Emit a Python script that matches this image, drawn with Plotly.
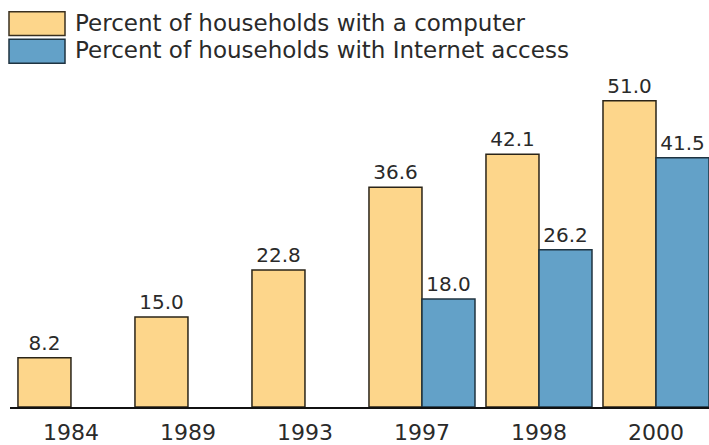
import plotly.graph_objects as go

years = ["1984", "1989", "1993", "1997", "1998", "2000"]
computer = [8.2, 15.0, 22.8, 36.6, 42.1, 51.0]
internet = [None, None, None, 18.0, 26.2, 41.5]
series_names = ["Percent of households with a computer",
                "Percent of households with Internet access"]

YELLOW = "#FDD68B"
BLUE = "#63A1C8"
FONT = "DejaVu Sans"
TXT = "#2a2a2a"

W, H = 709, 445
ML, MR, MT, MB = 10, 0, 80, 35

fig = go.Figure()
fig.add_trace(go.Bar(
    x=years, y=computer, name=series_names[0],
    marker=dict(color=YELLOW, line=dict(color="#2a2418", width=1.5)),
    text=[f"{v:.1f}" for v in computer], textposition="outside",
    textfont=dict(family=FONT, size=20, color=TXT), cliponaxis=False,
))
fig.add_trace(go.Bar(
    x=years, y=internet, name=series_names[1],
    marker=dict(color=BLUE, line=dict(color="#1f3340", width=1.5)),
    text=[("" if v is None else f"{v:.1f}") for v in internet], textposition="outside",
    textfont=dict(family=FONT, size=20, color=TXT), cliponaxis=False,
))

# custom legend (large swatches as in the reference)
PW, PH = W - ML - MR, H - MT - MB
for i, (name, col, edge) in enumerate([(series_names[0], YELLOW, "#3a3020"),
                                        (series_names[1], BLUE, "#1f3340")]):
    top = 11 + i * 28
    fig.add_shape(type="rect", xref="paper", yref="paper",
                  x0=(9 - ML) / PW, x1=(65 - ML) / PW,
                  y0=1 - (top + 24 - MT) / PH, y1=1 - (top - MT) / PH,
                  fillcolor=col, line=dict(color=edge, width=1.5))
    fig.add_annotation(xref="paper", yref="paper",
                       x=(73 - ML) / PW, y=1 - (top + 11 - MT) / PH,
                       xanchor="left", yanchor="middle", showarrow=False,
                       text=name, font=dict(family=FONT, size=23, color=TXT))

fig.update_layout(
    width=W, height=H,
    margin=dict(l=ML, r=MR, t=MT, b=MB),
    barmode="group", bargap=0.094, bargroupgap=0,
    plot_bgcolor="white", paper_bgcolor="white",
    showlegend=False,
    xaxis=dict(type="category", range=[-0.521, 5.453], showline=True,
               linecolor="#111", linewidth=2, ticks="", showgrid=False,
               tickfont=dict(family=FONT, size=22, color=TXT),
               ticklabelstandoff=5),
    yaxis=dict(range=[0, 54.45], visible=False, showgrid=False),
)

fig.write_html("out.html")
